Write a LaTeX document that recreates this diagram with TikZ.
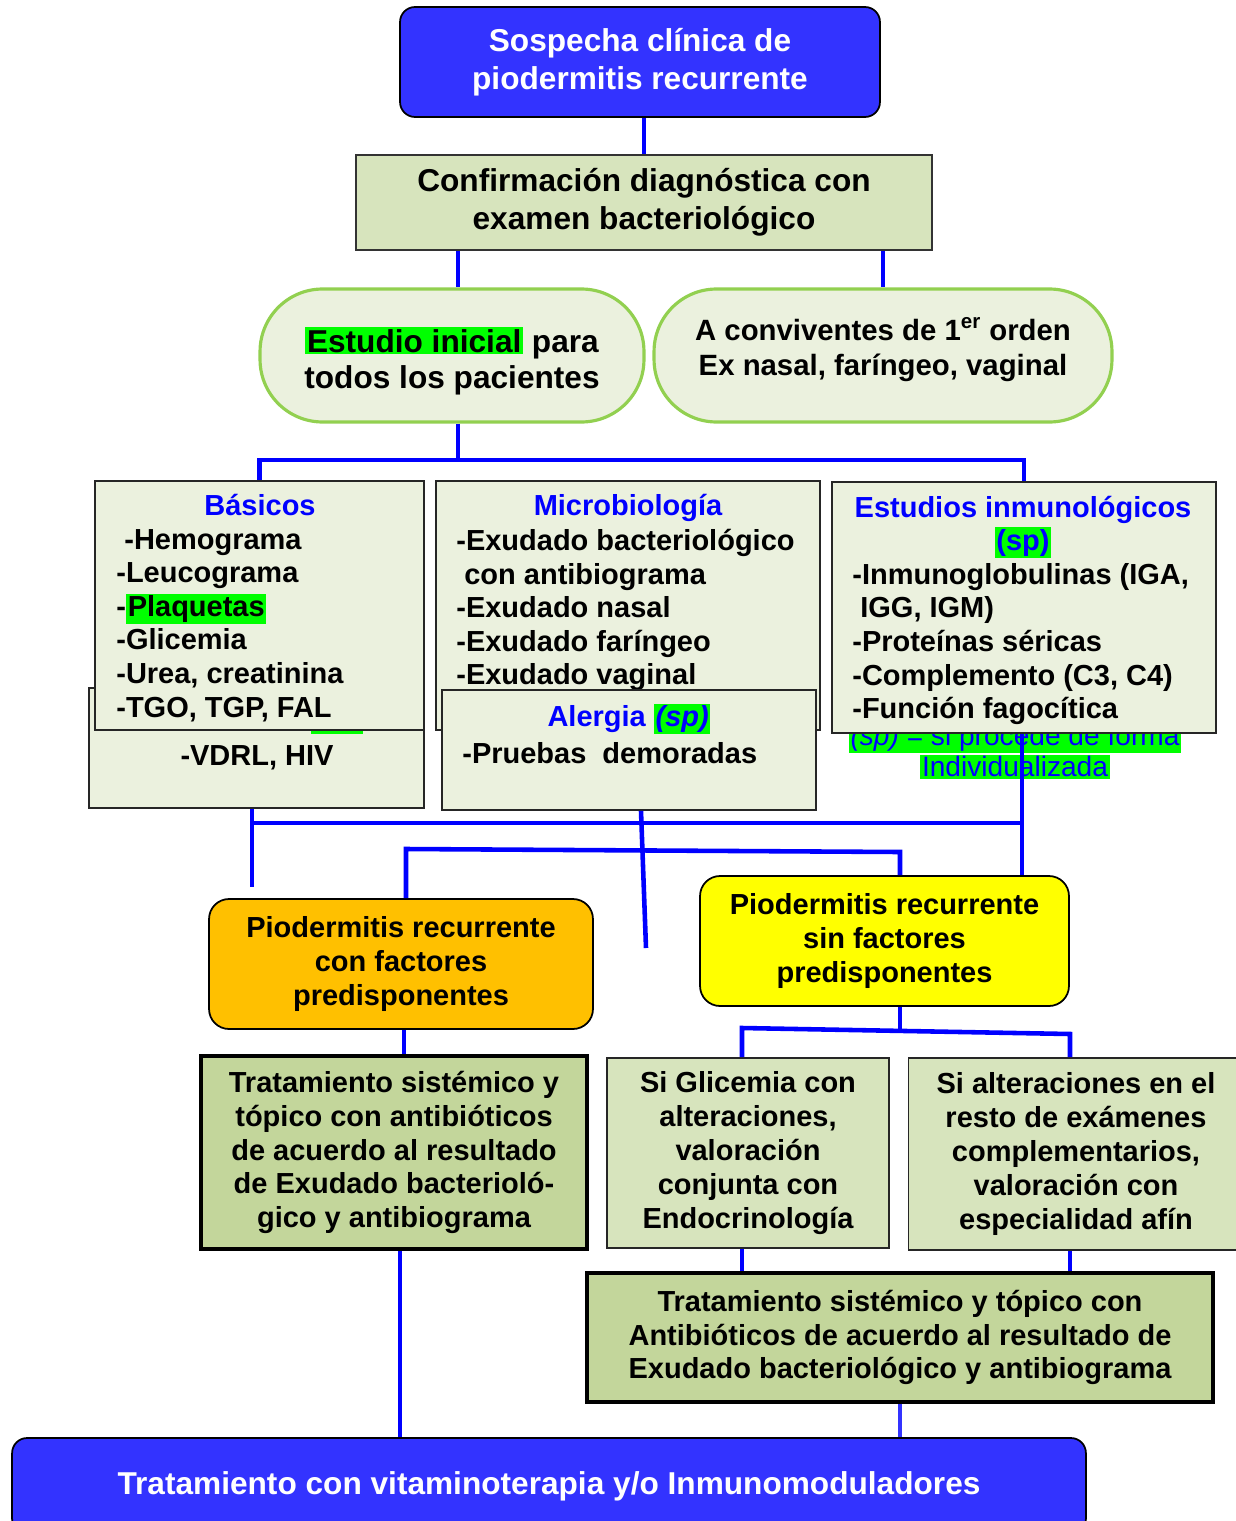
\documentclass[tikz,border=0pt]{standalone}
\usepackage{fontspec}
\setmainfont{Liberation Sans}
\definecolor{azulcaja}{RGB}{51,51,255}
\definecolor{azullinea}{RGB}{0,0,255}
\definecolor{fondoclaro}{RGB}{235,241,222}
\definecolor{fondomedio}{RGB}{215,228,189}
\definecolor{fondotrat}{RGB}{195,214,155}
\definecolor{bordeverde}{RGB}{146,208,80}
\definecolor{resalte}{RGB}{0,255,0}
\definecolor{naranja}{RGB}{255,192,0}
\definecolor{amarillo}{RGB}{255,255,0}
\newcommand{\resaltar}[1]{{\setlength{\fboxsep}{1pt}\colorbox{resalte}{#1}}}
\tikzset{
  conector/.style={draw=azullinea, line width=2.6pt},
  cajaazul/.style={draw=black, line width=1pt, fill=azulcaja, rounded corners=0.3cm,
    text=white, align=center, inner sep=0pt, font=\fontsize{18}{21.5}\selectfont\bfseries},
  cajaconf/.style={draw=black!80, line width=1pt, fill=fondomedio, align=center,
    inner sep=0pt, font=\fontsize{18}{21.5}\selectfont\bfseries},
  estadio/.style={draw=bordeverde, line width=1.8pt, fill=fondoclaro, rounded corners=1.25cm,
    inner sep=0pt},
  textoestadio/.style={align=center, inner sep=0pt, font=\fontsize{18}{20.5}\selectfont\bfseries},
  cajalista/.style={draw=black!85, line width=1pt, fill=fondoclaro, inner sep=0pt},
  titulo/.style={text=azullinea, inner sep=0pt, anchor=base, font=\fontsize{16.5}{19}\selectfont\bfseries},
  textolista/.style={align=left, inner sep=0pt, font=\fontsize{16.5}{19.1}\selectfont\bfseries},
  nota/.style={align=center, inner sep=0pt, text=azullinea, font=\fontsize{16}{18}\selectfont},
  cajafactor/.style={draw=black, line width=1pt, rounded corners=0.4cm, align=center,
    inner sep=0pt, font=\fontsize{16.5}{19.3}\selectfont\bfseries},
  cajamedia/.style={draw=black!85, line width=1pt, fill=fondomedio, align=center,
    inner sep=0pt, font=\fontsize{16.5}{19.3}\selectfont\bfseries},
  cajatrat/.style={draw=black, line width=2pt, fill=fondotrat, align=center,
    inner sep=0pt, font=\fontsize{16.5}{19.3}\selectfont\bfseries},
}

\begin{document}
\begin{tikzpicture}[x=0.02cm, y=-0.02cm]
\useasboundingbox (0,0) rectangle (1235,1521);

\node[cajaazul, minimum width=9.6cm, minimum height=2.2cm] (sospecha) at (640,62) {Sospecha clínica de\\piodermitis recurrente};
\node[cajaconf, minimum width=11.52cm, minimum height=1.9cm] (confirmacion) at (644,202.5) {Confirmación diagnóstica con\\examen bacteriológico};
\node[estadio, minimum width=7.68cm, minimum height=2.66cm] (inicial) at (452,355.5) {};
\node[textoestadio] (tinicial) at (452,361) {\resaltar{Estudio inicial} para\\todos los pacientes};
\node[estadio, minimum width=9.16cm, minimum height=2.66cm] (convivientes) at (883,355.5) {};
\node[textoestadio, font=\fontsize{16.7}{20.4}\selectfont\bfseries] (tconvivientes) at (883,350) {A conviventes de 1\textsuperscript{er} orden\\Ex nasal, faríngeo, vaginal};

\node[cajalista, minimum width=6.7cm, minimum height=2.4cm] (vdrl) at (256.5,748) {};
\node[textolista] (tvdrl) at (257,758) {-VDRL, HIV};
\fill[resalte] (311,726) rectangle (363,733.5);
\node[cajalista, minimum width=6.58cm, minimum height=4.98cm] (basicos) at (259.5,605.5) {};
\node[titulo] (tbasicos) at (260,515.5) {Básicos};
\node[textolista, anchor=north west] (lbasicos) at (116,529) {\hspace*{0.16cm}-Hemograma\\-Leucograma\\-\resaltar{Plaquetas}\\-Glicemia\\-Urea, creatinina\\-TGO, TGP, FAL};

\node[cajalista, minimum width=7.68cm, minimum height=4.98cm] (micro) at (628,605.5) {};
\node[titulo] (tmicro) at (628,515.5) {Microbiología};
\node[textolista, anchor=north west] (lmicro) at (456,529) {-Exudado bacteriológico\\\hspace*{0.16cm}con antibiograma\\-Exudado nasal\\-Exudado faríngeo\\-Exudado vaginal};
\node[cajalista, minimum width=7.48cm, minimum height=2.4cm] (alergia) at (629,750) {};
\node[titulo] (talergia) at (629,726.5) {Alergia \resaltar{\textit{(sp)}}};
\node[textolista, anchor=north west] (lalergia) at (462,742) {-Pruebas~~demoradas};

\node[nota] (nota) at (1015,751) {\resaltar{\textit{(sp)} = si procede de forma}\\\resaltar{Individualizada}};
\node[cajalista, minimum width=7.68cm, minimum height=5.02cm] (inmuno) at (1024,607.5) {};
\node[titulo] (tinmuno) at (1023,517.5) {Estudios inmunológicos};
\node[titulo] (spinmuno) at (1023,550) {\resaltar{(sp)}};
\node[textolista, anchor=north west] (linmuno) at (852,563) {-Inmunoglobulinas (IGA,\\\hspace*{0.16cm}IGG, IGM)\\-Proteínas séricas\\-Complemento (C3, C4)\\-Función fagocítica};

\node[cajafactor, fill=naranja, minimum width=7.68cm, minimum height=2.6cm] (confactores) at (401,964) {Piodermitis recurrente\\con factores\\predisponentes};
\node[cajafactor, fill=amarillo, minimum width=7.38cm, minimum height=2.6cm] (sinfactores) at (884.5,941) {Piodermitis recurrente\\sin factores\\predisponentes};

\node[cajatrat, minimum width=7.72cm, minimum height=3.86cm] (tratizq) at (394,1152.5) {Tratamiento sistémico y\\tópico con antibióticos\\de acuerdo al resultado\\de Exudado bacterioló-\\gico y antibiograma};
\node[cajamedia, minimum width=5.64cm, minimum height=3.8cm] (glicemia) at (748,1153) {Si Glicemia con\\alteraciones,\\valoración\\conjunta con\\Endocrinología};
\node[cajamedia, minimum width=6.7cm, minimum height=3.84cm] (resto) at (1076,1154) {Si alteraciones en el\\resto de exámenes\\complementarios,\\valoración con\\especialidad afín};
\node[cajatrat, minimum width=12.52cm, minimum height=2.58cm] (tratder) at (900,1337.5) {Tratamiento sistémico y tópico con\\Antibióticos de acuerdo al resultado de\\Exudado bacteriológico y antibiograma};
\node[cajaazul, minimum width=21.48cm, minimum height=1.92cm] (final) at (549,1486) {Tratamiento con vitaminoterapia y/o Inmunomoduladores};

\coordinate (barra1) at (458,460);
\coordinate (barra2) at (1022,823);
\coordinate (finizq) at (252,887);
\coordinate (finmed) at (646,948);
\coordinate (b3i) at (406,849);
\coordinate (b3d) at (900,852);
\coordinate (b4) at (900,1031);
\coordinate (b4i) at (742,1028);
\coordinate (b4d) at (1070,1034);
\coordinate (ejeizq) at (404,1040);
\coordinate (ejefin) at (400,1340);

\draw[conector] (confirmacion.north |- sospecha.south) -- (confirmacion.north);
\draw[conector] (confirmacion.south -| barra1) -- (inicial.north -| barra1);
\draw[conector] (confirmacion.south -| convivientes.north) -- (convivientes.north);
\draw[conector] (inicial.south -| barra1) -- (barra1);
\draw[conector] (basicos.north) |- (barra1 -| inmuno.north) -- (inmuno.north);
\draw[conector] (finizq |- vdrl.south) -- (finizq);
\draw[conector] (barra2 -| finizq) -- (barra2);
\draw[conector] ([xshift=0.24cm]alergia.south) -- (finmed);
\draw[conector] (inmuno.south -| barra2) -- (sinfactores.north -| barra2);
\draw[conector] (confactores.north -| b3i) -- (b3i) -- (b3d) -- (sinfactores.north -| b3d);
\draw[conector] (confactores.south -| ejeizq) -- (tratizq.north -| ejeizq);
\draw[conector] (sinfactores.south -| b4) -- (b4);
\draw[conector] (glicemia.north -| b4i) -- (b4i) -- (b4d) -- (resto.north -| b4d);
\draw[conector] (glicemia.south -| b4i) -- (tratder.north -| b4i);
\draw[conector] (resto.south -| b4d) -- (tratder.north -| b4d);
\draw[conector] (tratizq.south -| ejefin) -- (final.north -| ejefin);
\draw[conector, draw=azulcaja] (tratder.south) -- (tratder.south |- final.north);
\end{tikzpicture}
\end{document}
